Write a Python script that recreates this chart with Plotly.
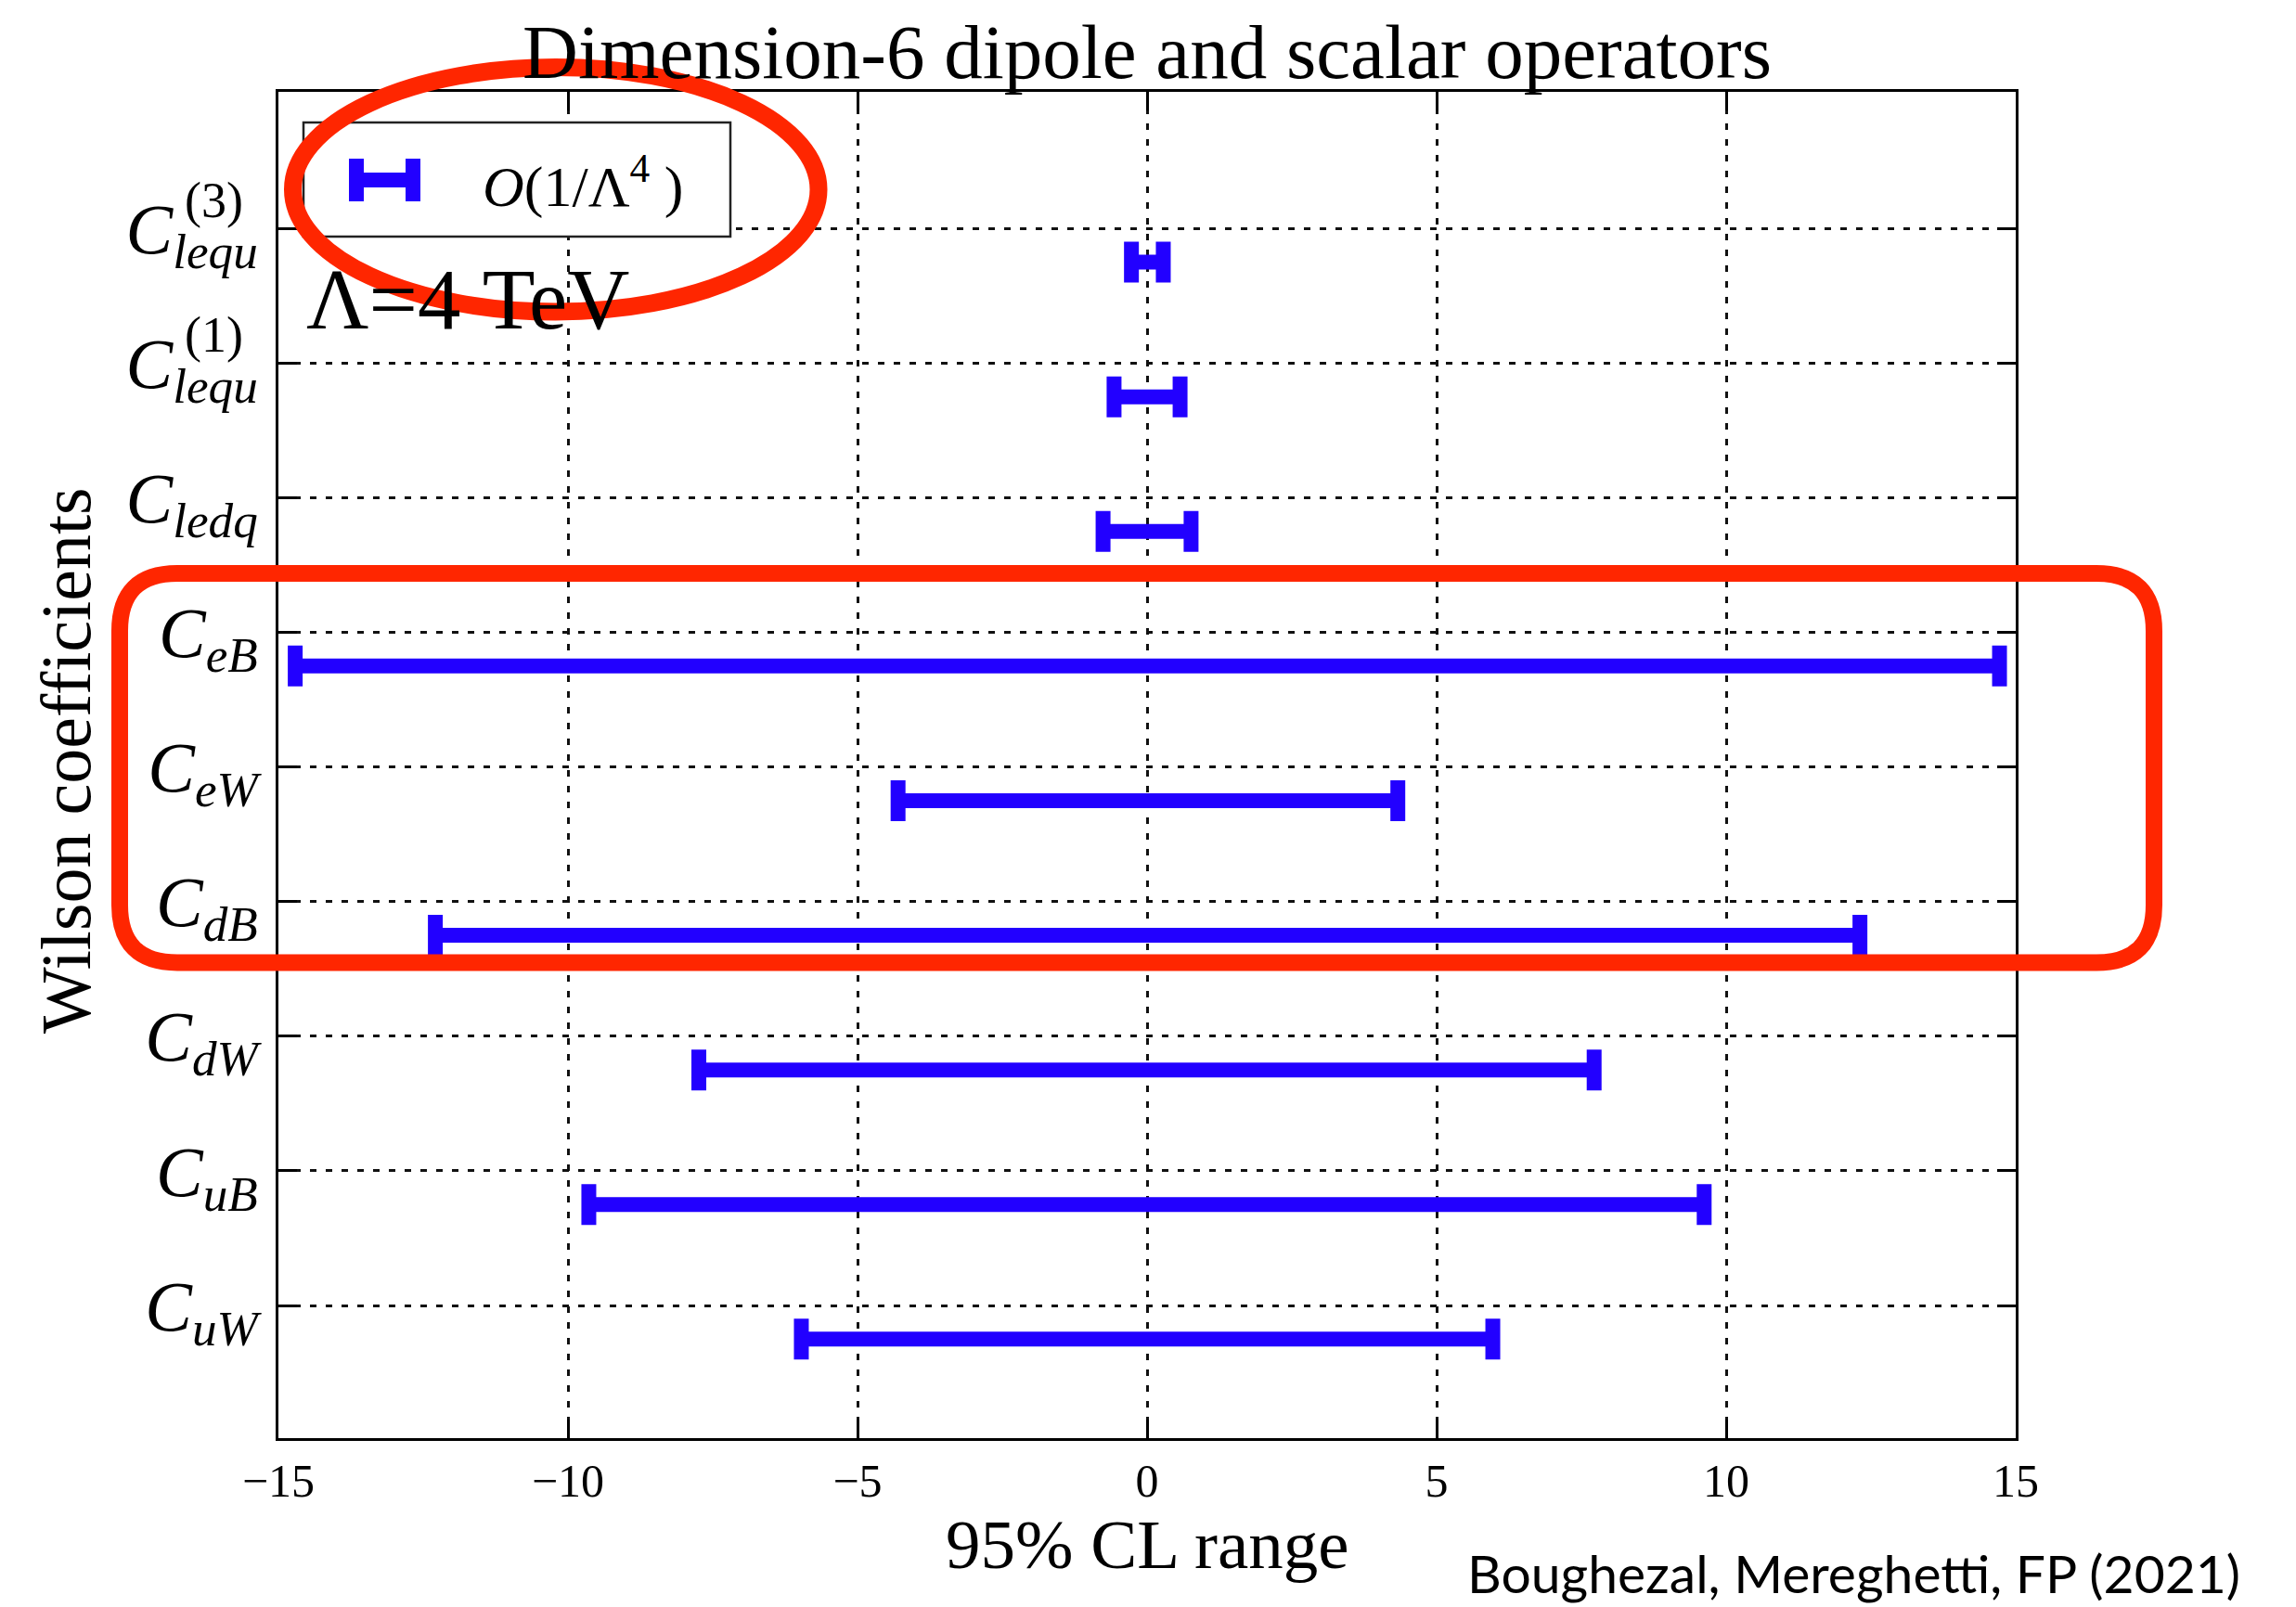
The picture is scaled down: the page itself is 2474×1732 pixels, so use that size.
import plotly.graph_objects as go

# ---------------- data ----------------
coefficients = ["C_lequ^(3)", "C_lequ^(1)", "C_ledq", "C_eB", "C_eW",
                "C_dB", "C_dW", "C_uB", "C_uW"]
tick_labels = ["<i>C</i><sub><i>lequ</i></sub>", "<i>C</i><sub><i>lequ</i></sub>",
               "<i>C</i><sub><i>ledq</i></sub>", "<i>C</i><sub><i>eB</i></sub>",
               "<i>C</i><sub><i>eW</i></sub>", "<i>C</i><sub><i>dB</i></sub>",
               "<i>C</i><sub><i>dW</i></sub>", "<i>C</i><sub><i>uB</i></sub>",
               "<i>C</i><sub><i>uW</i></sub>"]
superscripts = ["(3)", "(1)", "", "", "", "", "", "", ""]
lower = [-0.27, -0.57, -0.76, -14.71, -4.30, -12.29, -7.74, -9.64, -5.97]
upper = [0.28, 0.57, 0.76, 14.72, 4.33, 12.31, 7.72, 9.62, 5.97]
x_ticks = [-15, -10, -5, 0, 5, 10, 15]
series_name = "<i>O</i>(1/Λ<sup>4</sup> )"
title_text = "Dimension-6 dipole and scalar operators"
x_title = "95% CL range"
y_title = "Wilson coefficients"
scale_text = "Λ=4 TeV"
citation = "Boughezal, Mereghetti, FP (2021)"

# ---------------- style ----------------
W, H = 2474, 1732
L, R, T, B = 300, 2172, 99, 1550
BLUE = "#2200ff"
RED = "#ff2600"
SERIF = "Liberation Serif"
ROW_OFFSET = 0.25  # bars sit slightly below their category line


def px(x):
    return (x - L) / (R - L)


def py(y):
    return (B - y) / (B - T)


rows = list(range(len(coefficients)))
centers = [(lo + hi) / 2 for lo, hi in zip(lower, upper)]
plus = [hi - c for hi, c in zip(upper, centers)]
minus = [c - lo for lo, c in zip(lower, centers)]
ypos = [r + ROW_OFFSET for r in rows]

fig = go.Figure()
fig.add_trace(go.Scatter(
    x=centers, y=ypos, mode="markers",
    marker=dict(size=1, color="rgba(0,0,0,0)"),
    error_x=dict(type="data", symmetric=False, array=plus, arrayminus=minus,
                 color=BLUE, thickness=16, width=22),
    name=series_name, showlegend=False, hoverinfo="skip",
))

grid = dict(showgrid=True, gridcolor="#111", gridwidth=2.5, griddash="7px,10px")
fig.update_xaxes(range=[-15, 15], tickvals=x_ticks, ticks="inside", ticklen=20,
                 tickwidth=2.5, tickcolor="black", showline=True, linewidth=3,
                 linecolor="black", mirror="allticks", zeroline=False,
                 tickfont=dict(family=SERIF, size=50, color="black"), **grid)
fig.update_yaxes(range=[8.985, -1.015], tickvals=rows, ticktext=tick_labels,
                 ticks="inside", ticklen=20, tickwidth=2.5, tickcolor="black",
                 showline=True, linewidth=3, linecolor="black", mirror="allticks",
                 zeroline=False, ticklabelstandoff=4,
                 tickfont=dict(family=SERIF, size=76, color="black"), **grid)

shapes = []
# legend box and glyph
shapes.append(dict(type="rect", xref="paper", yref="paper", layer="above",
                   x0=px(327), x1=px(787), y0=py(132), y1=py(255),
                   line=dict(color="#222", width=2.5), fillcolor="white"))
gx0, gx1, gy = 384, 445, 194
shapes.append(dict(type="line", xref="paper", yref="paper", layer="above",
                   x0=px(gx0), x1=px(gx1), y0=py(gy), y1=py(gy),
                   line=dict(color=BLUE, width=16)))
for gx in (gx0, gx1):
    shapes.append(dict(type="line", xref="paper", yref="paper", layer="above",
                       x0=px(gx), x1=px(gx), y0=py(171), y1=py(217),
                       line=dict(color=BLUE, width=16)))
# red highlight ellipse
shapes.append(dict(type="circle", xref="paper", yref="paper", layer="above",
                   x0=px(315.5), x1=px(882), y0=py(72.5), y1=py(336),
                   line=dict(color=RED, width=19)))
# red rounded rectangle
rx0, rx1, ry0, ry1, rr = 129, 2321, 618, 1037.5, 62


def P(x, y):
    return f"{px(x):.5f},{py(y):.5f}"


path = (f"M {P(rx0 + rr, ry0)} L {P(rx1 - rr, ry0)} Q {P(rx1, ry0)} {P(rx1, ry0 + rr)} "
        f"L {P(rx1, ry1 - rr)} Q {P(rx1, ry1)} {P(rx1 - rr, ry1)} "
        f"L {P(rx0 + rr, ry1)} Q {P(rx0, ry1)} {P(rx0, ry1 - rr)} "
        f"L {P(rx0, ry0 + rr)} Q {P(rx0, ry0)} {P(rx0 + rr, ry0)} Z")
shapes.append(dict(type="path", xref="paper", yref="paper", layer="above",
                   path=path, line=dict(color=RED, width=18)))

ann = []
ann.append(dict(text=title_text, xref="paper", yref="paper", x=px(1236), y=py(56),
                xanchor="center", yanchor="middle", showarrow=False,
                font=dict(family=SERIF, size=83, color="black")))
ann.append(dict(text=x_title, xref="paper", yref="paper", x=px(1236), y=py(1664),
                xanchor="center", yanchor="middle", showarrow=False,
                font=dict(family=SERIF, size=75, color="black")))
ann.append(dict(text=y_title, xref="paper", yref="paper", x=px(71), y=py(820),
                xanchor="center", yanchor="middle", showarrow=False, textangle=-90,
                font=dict(family=SERIF, size=76, color="black")))
ann.append(dict(text=scale_text, xref="paper", yref="paper", x=px(328), y=py(322),
                xanchor="left", yanchor="middle", showarrow=False,
                font=dict(family=SERIF, size=93, color="black")))
ann.append(dict(text=series_name, xref="paper", yref="paper", x=px(518), y=py(196),
                xanchor="left", yanchor="middle", showarrow=False,
                font=dict(family=SERIF, size=62, color="black")))
for r, s in zip(rows, superscripts):
    if s:
        ann.append(dict(text=s, xref="paper", yref="y", x=px(197), y=r, yshift=30,
                        xanchor="left", yanchor="middle", showarrow=False,
                        font=dict(family=SERIF, size=54, color="black")))
ann.append(dict(text=citation, xref="paper", yref="paper", x=px(2416), y=py(1731),
                xanchor="right", yanchor="bottom", showarrow=False,
                font=dict(family="Lato", size=57, color="black")))

fig.update_layout(
    width=W, height=H,
    margin=dict(l=L, r=W - R, t=T, b=H - B, autoexpand=False),
    paper_bgcolor="white", plot_bgcolor="white",
    showlegend=False, shapes=shapes, annotations=ann,
)

fig.write_html("out.html", config={"displayModeBar": False},
               post_script="document.body.style.margin='0';document.body.style.overflow='hidden';")
